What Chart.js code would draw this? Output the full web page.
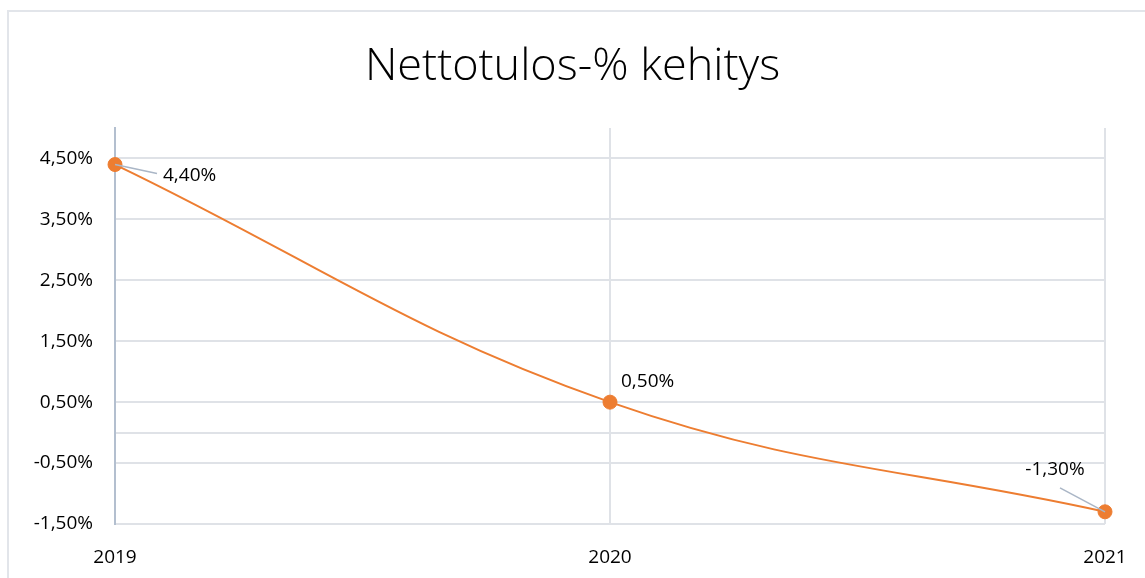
<!DOCTYPE html>
<html>
<head>
<meta charset="utf-8">
<script src="https://cdn.jsdelivr.net/npm/chart.js@4"></script>
<style>
  html, body { margin: 0; padding: 0; background: #fff; }
  #wrap { width: 1145px; height: 578px; position: relative; }
</style>
</head>
<body>
<div id="wrap"><canvas id="chart"></canvas></div>
<script>
// data
const years = ['2019', '2020', '2021'];
const nettotulos = [4.4, 0.5, -1.3];
const yTicks = [-1.5, -0.5, 0, 0.5, 1.5, 2.5, 3.5, 4.5];

function fmt(v) {
    return v.toFixed(2).replace('.', ',') + '%';
}

// frame around the chart (only left and top visible in the crop)
const framePlugin = {
    id: 'frame',
    beforeDraw(chart) {
        const ctx = chart.ctx;
        ctx.save();
        ctx.strokeStyle = '#e2e5ea';
        ctx.lineWidth = 2;
        ctx.beginPath();
        ctx.moveTo(8, 600);
        ctx.lineTo(8, 11);
        ctx.lineTo(1160, 11);
        ctx.stroke();
        ctx.restore();
    }
};

// value labels with leader lines, like the Excel data labels
const labelPlugin = {
    id: 'valueLabels',
    afterDatasetsDraw(chart, args, opts) {
        const ctx = chart.ctx;
        const meta = chart.getDatasetMeta(0);
        ctx.save();
        ctx.font = '19px "Open Sans", sans-serif';
        ctx.textBaseline = 'middle';
        meta.data.forEach((pt, i) => {
            const o = opts.offsets[i];
            if (o.leader) {
                ctx.strokeStyle = '#aab6c6';
                ctx.lineWidth = 1.5;
                ctx.beginPath();
                ctx.moveTo(pt.x, pt.y);
                ctx.lineTo(pt.x + o.leader[0], pt.y + o.leader[1]);
                ctx.stroke();
            }
            ctx.fillStyle = '#000';
            ctx.textAlign = o.align;
            ctx.fillText(fmt(nettotulos[i]), pt.x + o.dx, pt.y + o.dy);
        });
        ctx.restore();
    }
};

const ctx = document.getElementById('chart').getContext('2d');
new Chart(ctx, {
    type: 'line',
    data: {
        labels: years,
        datasets: [{
            data: nettotulos,
            borderColor: '#ed7d31',
            backgroundColor: '#ed7d31',
            borderWidth: 2,
            pointRadius: 7,
            pointBackgroundColor: '#ed7d31',
            pointBorderColor: '#ed7d31',
            pointBorderWidth: 1,
            tension: 0.4,
            fill: false
        }]
    },
    options: {
        responsive: true,
        maintainAspectRatio: false,
        animation: false,
        layout: { padding: 0 },
        plugins: {
            legend: { display: false },
            tooltip: { enabled: false },
            title: {
                display: true,
                text: 'Nettotulos-% kehitys',
                color: '#000',
                font: { family: '"Open Sans", sans-serif', size: 45, weight: 300 },
                padding: { top: 40, bottom: 34 }
            },
            valueLabels: {
                offsets: [
                    { dx: 48, dy: 11, align: 'left', leader: [42, 9] },
                    { dx: 11, dy: -21, align: 'left' },
                    { dx: -50, dy: -42, align: 'center', leader: [-45, -24] }
                ]
            }
        },
        scales: {
            x: {
                type: 'category',
                offset: false,
                grid: {
                    color: '#dfe2e7',
                    lineWidth: 2,
                    drawTicks: true,
                    tickLength: 20,
                    tickColor: 'rgba(0,0,0,0)'
                },
                border: { display: false },
                ticks: {
                    color: '#000',
                    font: { family: '"Open Sans", sans-serif', size: 19 },
                    padding: 2,
                    maxRotation: 0
                },
                afterFit(scale) { scale.height = 54; }
            },
            y: {
                min: -1.5,
                max: 5.0,
                afterBuildTicks(scale) {
                    scale.ticks = yTicks.map(v => ({ value: v }));
                },
                grid: {
                    color: '#dfe2e7',
                    lineWidth: 2,
                    drawTicks: false
                },
                border: { display: true, color: '#b3bfcf', width: 2 },
                ticks: {
                    color: '#000',
                    font: { family: '"Open Sans", sans-serif', size: 19 },
                    padding: 22,
                    callback: v => (v === 0 ? '' : fmt(v))
                },
                afterFit(scale) { scale.width = 115; }
            },
            // empty right axis only keeps the gap on the right side
            yRight: {
                position: 'right',
                display: true,
                grid: { display: false, drawTicks: false },
                border: { display: false },
                ticks: { display: false },
                afterFit(scale) { scale.width = 40; }
            }
        }
    },
    plugins: [framePlugin, labelPlugin]
});
</script>
</body>
</html>
